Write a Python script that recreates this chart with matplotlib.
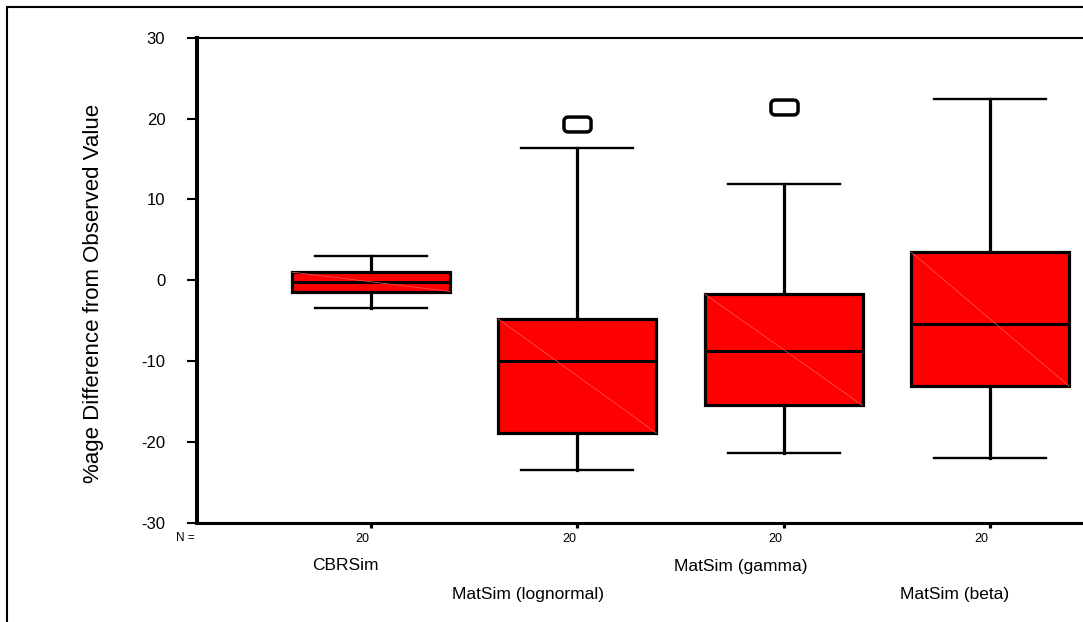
import numpy as np
import matplotlib
matplotlib.use("Agg")
import matplotlib.pyplot as plt
from matplotlib.path import Path
from matplotlib.patches import Rectangle

plt.rcParams['font.family'] = ['Liberation Sans', 'DejaVu Sans']

# ---- data ----
categories = ['CBRSim', 'MatSim (lognormal)', 'MatSim (gamma)', 'MatSim (beta)']
n_counts = [20, 20, 20, 20]
whisker_low = [-3.5, -23.5, -21.4, -22.0]
q1 = [-1.4, -18.9, -15.5, -13.1]
median = [-0.2, -10.0, -8.8, -5.4]
q3 = [1.0, -4.8, -1.7, 3.5]
whisker_high = [3.0, 16.4, 11.9, 22.4]
outliers = [[], [19.3], [21.4], []]
y_ticks = [-30, -20, -10, 0, 10, 20, 30]

W, H = 1083, 622
fig = plt.figure(figsize=(W / 100, H / 100), dpi=100)
ax = fig.add_axes([196.5 / W, 1 - 522.7 / H, 1 - 196.5 / W, (522.7 - 37.7) / H])

positions = np.arange(1, len(categories) + 1)
stats = []
for i, c in enumerate(categories):
    stats.append(dict(label=c, med=median[i], q1=q1[i], q3=q3[i],
                      whislo=whisker_low[i], whishi=whisker_high[i],
                      fliers=outliers[i]))

# rounded-rectangle outlier marker (SPSS style "O")
def rounded_rect(w=1.0, h=0.55, r=0.3, n=8):
    pts = []
    corners = [(w - r, h - r, 0), (-w + r, h - r, 90), (-w + r, -h + r, 180), (w - r, -h + r, 270)]
    for cx, cy, a0 in corners:
        for t in np.linspace(np.radians(a0), np.radians(a0 + 90), n):
            pts.append((cx + r * np.cos(t), cy + r * np.sin(t)))
    pts.append(pts[0])
    codes = [Path.MOVETO] + [Path.LINETO] * (len(pts) - 2) + [Path.CLOSEPOLY]
    return Path(pts, codes)

marker = rounded_rect()
box_w = 0.766
cap_w = 0.543

ax.bxp(stats, positions=positions, widths=box_w, capwidths=cap_w,
       patch_artist=True, showfliers=True, manage_ticks=False,
       boxprops=dict(facecolor='#ff0000', edgecolor='black', linewidth=2.3),
       medianprops=dict(color='black', linewidth=2.2),
       whiskerprops=dict(color='black', linewidth=2.3),
       capprops=dict(color='black', linewidth=1.7),
       flierprops=dict(marker=marker, markersize=19.5, markerfacecolor='white',
                       markeredgecolor='black', markeredgewidth=2.5, linestyle='none'))

# faint diagonal artefact inside each box
for i, p in enumerate(positions):
    ax.plot([p - box_w / 2, p + box_w / 2], [q3[i], q1[i]], color='#ff5a5a',
            linewidth=0.5, zorder=2.5)

ax.set_xlim(0.1541, 4.4508)
ax.set_ylim(-30, 30)
ax.set_yticks(y_ticks)
ax.set_yticklabels([str(t) for t in y_ticks], fontsize=12)
ax.tick_params(axis='y', direction='out', length=7, width=1.5, pad=15.5, colors='black')
ax.set_xticks(positions)
ax.set_xticklabels([''] * len(positions))
ax.tick_params(axis='x', direction='out', length=3.5, width=2.3)

ax.spines['right'].set_visible(False)
ax.spines['left'].set_linewidth(2.9)
ax.spines['bottom'].set_linewidth(2.2)
ax.spines['top'].set_linewidth(1.5)

# N labels
fig.text(195 / W, 1 - 538 / H, 'N =', fontsize=8.5, ha='right', va='center')
for p, n in zip(positions, n_counts):
    ax.annotate(str(n), xy=(p, 0), xycoords=('data', 'axes fraction'),
                xytext=(-6, -11.5), textcoords='offset points',
                ha='center', va='center', fontsize=9)

# staggered category labels
label_px = [(345.7, 565), (528, 594), (741, 566), (955, 594)]
for c, (px, py) in zip(categories, label_px):
    fig.text(px / W, 1 - py / H, c, fontsize=12.5, ha='center', va='center')

fig.text(94 / W, 1 - 293.5 / H, '%age Difference from Observed Value',
         rotation=90, fontsize=16, ha='center', va='center')

# outer border
fig.add_artist(Rectangle((7.3 / W, -0.5), 2, 1 - 6.7 / H + 0.5, transform=fig.transFigure,
                         fill=False, edgecolor='black', linewidth=1.5))

fig.savefig('out.png', dpi=100)
